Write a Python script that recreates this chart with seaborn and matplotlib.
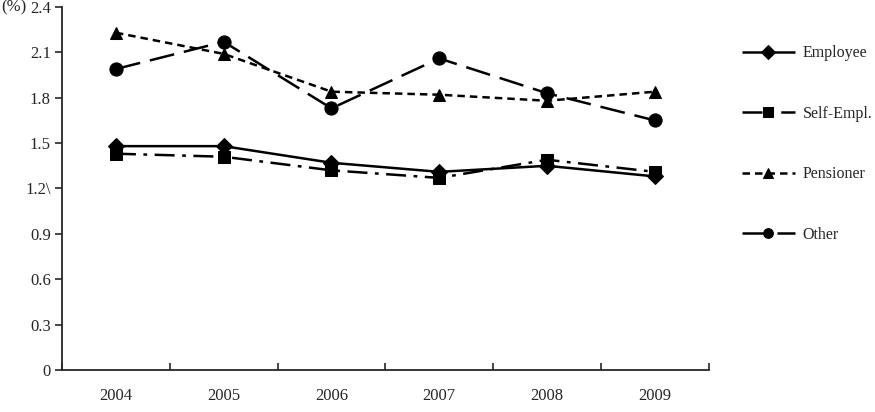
import matplotlib
matplotlib.use("Agg")
import matplotlib.pyplot as plt
import seaborn as sns
import numpy as np

years = ["2004", "2005", "2006", "2007", "2008", "2009"]
employee = [1.48, 1.48, 1.37, 1.31, 1.35, 1.28]
self_empl = [1.43, 1.41, 1.32, 1.27, 1.39, 1.31]
pensioner = [2.23, 2.09, 1.84, 1.82, 1.78, 1.84]
other = [1.99, 2.17, 1.73, 2.06, 1.83, 1.65]
yticks = [0, 0.3, 0.6, 0.9, 1.2, 1.5, 1.8, 2.1, 2.4]
ytick_labels = ["0", "0.3", "0.6", "0.9", "1.2\\", "1.5", "1.8", "2.1", "2.4"]

sns.set_style("ticks")
plt.rcParams["font.family"] = ["Liberation Serif", "DejaVu Serif"]
plt.rcParams["font.size"] = 12

fig = plt.figure(figsize=(8.75, 4.12), dpi=100)
ax = fig.add_axes([0.0709, 0.102, 0.739, 0.881])

x = np.arange(len(years))
series = [
    ("Employee", employee, "D", 8, (0, ())),
    ("Self-Empl.", self_empl, "s", 9, (0, (8, 3, 1.5, 3))),
    ("Pensioner", pensioner, "^", 9, (0, (3, 2))),
    ("Other", other, "o", 9.5, (0, (10, 4))),
]
for name, vals, mk, ms, ls in series:
    sns.lineplot(x=x, y=vals, ax=ax, color="black", marker=mk, markersize=ms,
                 markeredgecolor="black", linewidth=1.8, linestyle=ls, label=name)

ax.set_xlim(-0.5, len(years) - 0.5)
ax.set_ylim(0, 2.4)
ax.set_xticks(np.arange(-0.5, len(years), 1.0))
ax.set_xticklabels([])
ax.set_xticks(x, minor=True)
ax.set_xticklabels(years, minor=True)
ax.tick_params(axis="x", which="minor", length=0, pad=13)
ax.tick_params(axis="x", which="major", length=5, width=1.2, direction="in")
ax.set_yticks(yticks)
ax.set_yticklabels(ytick_labels)
ax.tick_params(axis="y", length=5, width=1.2, direction="out", pad=3)
sns.despine(ax=ax)
for s in ["left", "bottom"]:
    ax.spines[s].set_linewidth(1.3)
ax.set_xlabel("")
ax.set_ylabel("")

fig.text(0.001, 0.983, "(%)", va="center", ha="left", fontsize=12)

leg = ax.legend(loc="upper left", bbox_to_anchor=(0.848, 0.89), bbox_transform=fig.transFigure,
                borderaxespad=0, frameon=False, handlelength=3.3, labelspacing=2.78,
                borderpad=0, handletextpad=0.5, fontsize=11.5)
for h in leg.legend_handles:
    h.set_markersize(7)

fig.savefig("out.png", dpi=100)
